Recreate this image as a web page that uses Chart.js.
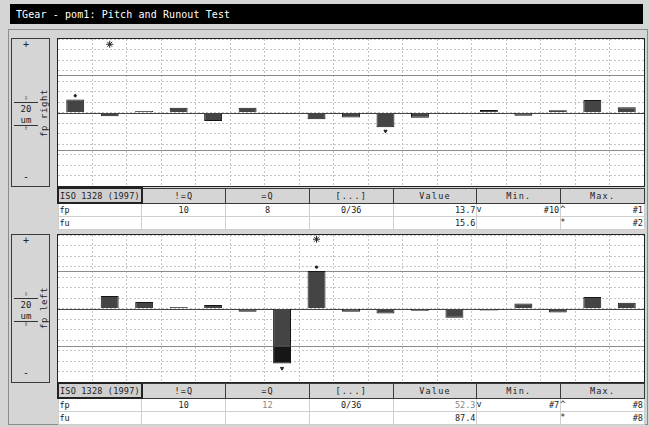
<!DOCTYPE html>
<html>
<head>
<meta charset="utf-8">
<script src="https://cdn.jsdelivr.net/npm/chart.js@4.4.1/dist/chart.umd.min.js"></script>
<style>
  body { margin: 0; width: 650px; height: 427px; background: #d5d5d5; position: relative; overflow: hidden;
         font-family: "DejaVu Sans Mono", monospace; color: #222; }
  #frame { position: absolute; left: 8px; top: 29px; width: 638px; height: 394px; border: 1px solid #8c8c8c; }
  #title { position: absolute; left: 10px; top: 4px; width: 627px; height: 20px; padding-left: 6px;
           background: #000; color: #fff; font-size: 10px; line-height: 21px; letter-spacing: 0.1px; }
  .side { position: absolute; left: 11px; width: 37px; height: 147px; border: 1px solid #3a3a3a; background: #d5d5d5; }
  .side .pm { position: absolute; left: 0; width: 28px; text-align: center; font-size: 10px; }
  .side .scl { position: absolute; left: 2px; width: 24px; border-top: 1px solid #333; }
  .side .lab { position: absolute; left: 0; width: 28px; text-align: center; font-size: 9px; line-height: 9px; }
  .side .arr { position: absolute; left: 0; width: 28px; text-align: center; font-size: 7px; line-height: 7px; }
  .side .rot { position: absolute; left: 32px; font-size: 9px; letter-spacing: 0.6px; white-space: nowrap;
               transform: translate(-50%, -50%) rotate(-90deg); }
  .plot { position: absolute; left: 57px; width: 586px; height: 147px; border: 1px solid #222; background: #fff; }
  table { position: absolute; left: 57px; width: 588px; border-collapse: collapse; table-layout: fixed; font-size: 8.5px; }
  td, th { height: 12px; padding: 0 1px; overflow: visible; white-space: nowrap; position: relative; font-weight: normal; }
  th { background: #d5d5d5; border: 1px solid #3a3a3a; height: 13px; letter-spacing: 1.2px; text-align: center; }
  th.first { text-align: left; border: 2px solid #222; background: #cfcfcf; letter-spacing: 0.2px; }
  td { background: #fff; border: 1px solid #cfcfcf; text-align: right; }
  td.name { text-align: left; }
  td.mid { text-align: center; }
  td.dim { color: #858585; }
  .sfx { position: absolute; left: 100%; top: 0; color: #222; z-index: 5; }
</style>
</head>
<body>
<div id="frame"></div>
<div id="title">TGear - pom1: Pitch and Runout Test</div>

<div class="side" style="top:38px">
  <div class="pm" style="top:0px">+</div>
  <div class="arr" style="top:56px">⇩</div>
  <div class="scl" style="top:63px"></div>
  <div class="lab" style="top:66px">20</div>
  <div class="lab" style="top:77px">um</div>
  <div class="scl" style="top:86px"></div>
  <div class="arr" style="top:86px">⇧</div>
  <div class="pm" style="top:132px">-</div>
  <div class="rot" style="top:74px">fp right</div>
</div>
<div class="plot" style="top:38px"><canvas id="rightChart" width="586" height="147"></canvas></div>
<table style="top:187px">
  <tr><th class="first">ISO 1328 (1997)</th><th>!=Q</th><th>=Q</th><th>[...]</th><th>Value</th><th>Min.</th><th>Max.</th></tr>
  <tr><td class="name">fp</td><td class="mid">10</td><td class="mid">8</td><td class="mid">0/36</td><td>13.7<span class="sfx">v</span></td><td>#10<span class="sfx">^</span></td><td>#1</td></tr>
  <tr><td class="name">fu</td><td></td><td></td><td></td><td>15.6</td><td><span class="sfx">*</span></td><td>#2</td></tr>
</table>

<div class="side" style="top:234px">
  <div class="pm" style="top:0px">+</div>
  <div class="arr" style="top:56px">⇩</div>
  <div class="scl" style="top:63px"></div>
  <div class="lab" style="top:66px">20</div>
  <div class="lab" style="top:77px">um</div>
  <div class="scl" style="top:86px"></div>
  <div class="arr" style="top:86px">⇧</div>
  <div class="pm" style="top:132px">-</div>
  <div class="rot" style="top:73px">fp left</div>
</div>
<div class="plot" style="top:234px"><canvas id="leftChart" width="586" height="147"></canvas></div>
<table style="top:382px">
  <tr><th class="first">ISO 1328 (1997)</th><th>!=Q</th><th>=Q</th><th>[...]</th><th>Value</th><th>Min.</th><th>Max.</th></tr>
  <tr><td class="name">fp</td><td class="mid">10</td><td class="mid dim">12</td><td class="mid">0/36</td><td class="dim">52.3<span class="sfx">v</span></td><td>#7<span class="sfx">^</span></td><td>#8</td></tr>
  <tr><td class="name">fu</td><td></td><td></td><td></td><td>87.4</td><td><span class="sfx">*</span></td><td>#8</td></tr>
</table>

<script>
// tooth numbers
const teeth = ["1","2","3","4","5","6","7","8","9","10","11","12","13","14","15","16","17"];

// single pitch deviation fp (um)
const rightFp = [12.3, -3.5, 1.5, 4.5, -8, 4.5, -0.8, -6.5, -4.8, -14, -5, 0, 2.5, -3.2, 2.2, 12, 5];
const leftFp  = [0, 12, 6.3, 1.5, 3.3, -3.2, -52.3, 35.6, -3.2, -4.7, -2.2, -8.8, -1.9, 4.7, -3.8, 11, 5.4];

// tolerance band (um)
const tolerance = 36;

// small marks at max / min tooth and the fu star
const rightMaxMark = [16, null, null, null, null, null, null, null, null, null, null, null, null, null, null, null, null];
const rightMinMark = [null, null, null, null, null, null, null, null, null, -17.7, null, null, null, null, null, null, null];
const rightStar    = [null, 65, null, null, null, null, null, null, null, null, null, null, null, null, null, null, null];
const leftMaxMark  = [null, null, null, null, null, null, null, 39.4, null, null, null, null, null, null, null, null, null];
const leftMinMark  = [null, null, null, null, null, null, -57, null, null, null, null, null, null, null, null, null, null];
const leftStar     = [null, null, null, null, null, null, null, 66, null, null, null, null, null, null, null, null, null];

const bandLines = {
  id: "bandLines",
  beforeDatasetsDraw(chart) {
    const { ctx, chartArea, scales } = chart;
    ctx.save();
    ctx.lineWidth = 1;
    ctx.strokeStyle = "#8a8a8a";
    for (const v of [tolerance, -tolerance]) {
      const y = Math.round(scales.y.getPixelForValue(v)) + 0.5;
      ctx.beginPath(); ctx.moveTo(chartArea.left, y); ctx.lineTo(chartArea.right, y); ctx.stroke();
    }
    ctx.strokeStyle = "#444";
    const y0 = Math.round(scales.y.getPixelForValue(0)) + 0.5;
    ctx.beginPath(); ctx.moveTo(chartArea.left, y0); ctx.lineTo(chartArea.right, y0); ctx.stroke();
    ctx.restore();
  }
};

function markSet(data, style, radius, stack) {
  return {
    type: "line", data, stack, showLine: false,
    pointStyle: style, pointRadius: radius, pointHoverRadius: radius,
    rotation: style === "triangle" ? 180 : 0,
    pointBackgroundColor: "#222", pointBorderColor: "#222", pointBorderWidth: 1
  };
}

function drawPanel(id, values, maxMark, minMark, star) {
  // split every bar into the part inside the band and the part beyond it
  const inside = values.map(v => Math.max(-tolerance, Math.min(tolerance, v)));
  const beyond = values.map((v, i) => v - inside[i]);

  new Chart(document.getElementById(id), {
    type: "bar",
    data: {
      labels: teeth,
      datasets: [
        { data: inside, stack: "fp", backgroundColor: "#444", borderColor: "#161616", borderWidth: 1,
          barPercentage: 0.52, categoryPercentage: 1 },
        { data: beyond, stack: "fp", backgroundColor: "#161616", borderColor: "#161616", borderWidth: 1,
          barPercentage: 0.52, categoryPercentage: 1 },
        markSet(maxMark, "circle", 1.2, "m1"),
        markSet(minMark, "triangle", 1.8, "m2"),
        markSet(star, "star", 3.5, "m3")
      ]
    },
    options: {
      responsive: false,
      animation: false,
      layout: { padding: 0, autoPadding: false },
      plugins: { legend: { display: false }, tooltip: { enabled: false } },
      scales: {
        x: {
          stacked: true, offset: true,
          ticks: { display: false },
          grid: { offset: true, color: "#c4c4c4", drawTicks: false },
          border: { display: false, dash: [2, 2] }
        },
        y: {
          stacked: true, min: -70, max: 70,
          ticks: { display: false, stepSize: 10 },
          grid: { color: "#c4c4c4", drawTicks: false },
          border: { display: false, dash: [2, 2] }
        }
      }
    },
    plugins: [bandLines]
  });
}

drawPanel("rightChart", rightFp, rightMaxMark, rightMinMark, rightStar);
drawPanel("leftChart", leftFp, leftMaxMark, leftMinMark, leftStar);
</script>
</body>
</html>
